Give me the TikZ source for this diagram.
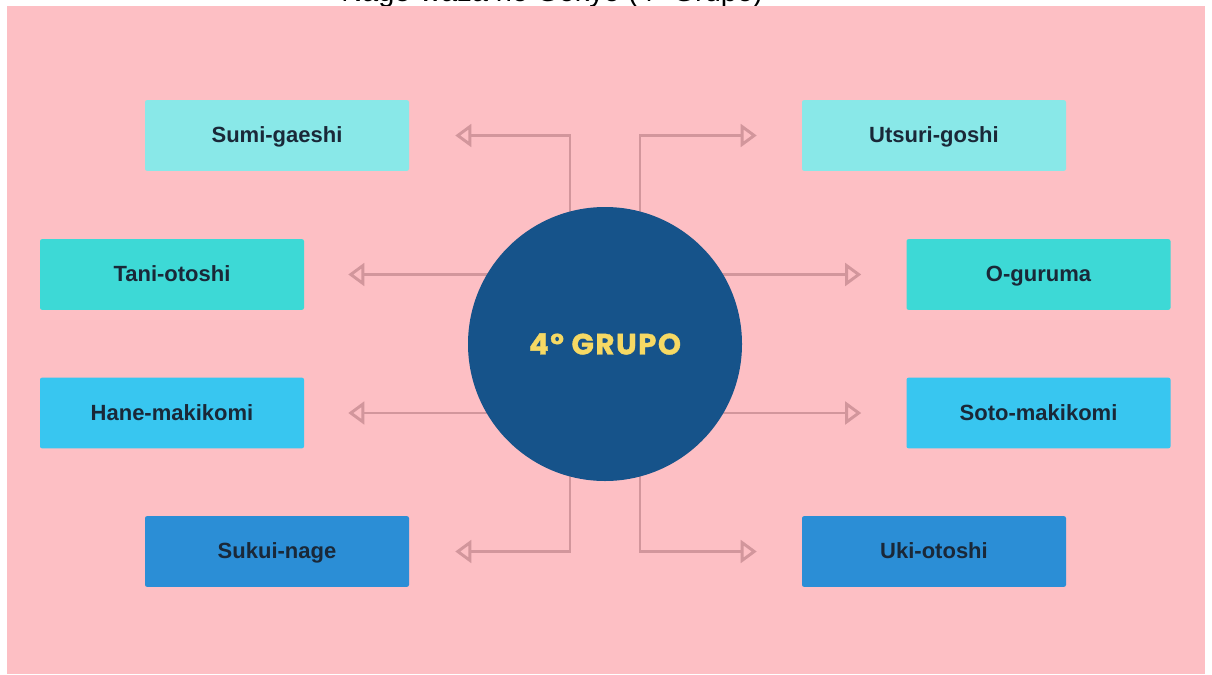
\documentclass[tikz,border=0pt]{standalone}
\usepackage{fontspec}
\setmainfont{Liberation Sans}
\newfontfamily\popfont[LetterSpace=5,BoldFeatures={FakeBold=1.2}]{Poppins}
\usetikzlibrary{arrows.meta,calc}

\definecolor{bgpink}{RGB}{253,191,196}
\definecolor{linecol}{RGB}{210,150,156}
\definecolor{circblue}{RGB}{22,83,138}
\definecolor{labyellow}{RGB}{246,217,100}
\definecolor{labdark}{RGB}{26,40,56}
\definecolor{boxA}{RGB}{137,232,232}
\definecolor{boxB}{RGB}{61,217,214}
\definecolor{boxC}{RGB}{56,198,240}
\definecolor{boxD}{RGB}{43,142,214}

\pgfdeclarelayer{back}
\pgfdeclarelayer{links}
\pgfsetlayers{back,links,main}

\tikzset{
  techbox/.style={rectangle, rounded corners=1.5pt, inner sep=0pt,
    minimum width=198pt, minimum height=53pt, text=labdark,
    text height=14pt, text depth=2.8pt,
    font=\fontsize{16.5pt}{19pt}\selectfont\bfseries},
  hub/.style={circle, fill=circblue, inner sep=0pt, minimum size=205.5pt,
    text=labyellow, font=\popfont\fontsize{22pt}{26pt}\selectfont\bfseries},
  conn/.style={draw=linecol, line width=2.2pt,
    -{Triangle[length=12pt,width=17pt,fill=bgpink]}}
}

\begin{document}
\begin{tikzpicture}[x=0.75pt,y=-0.75pt]
\useasboundingbox (0,0) rectangle (1212,674);
\clip (0,0) rectangle (1212,674);

\begin{pgfonlayer}{back}
  \fill[white] (0,0) rectangle (1212,674);
  \node[anchor=base west, inner sep=0pt, font=\fontsize{21.75pt}{26pt}\selectfont]
    (title) at (341,1.5) {Nage-waza no Gokyo (4º Grupo)};
  \fill[bgpink] (7,6) rectangle (1205,674);
\end{pgfonlayer}

% central hub
\node[hub] (c) at (605,344) {4° GRUPO};

% techniques
\node[techbox, fill=boxA] (sumi)   at (277,135.5)  {Sumi-gaeshi};
\node[techbox, fill=boxA] (utsuri) at (934,135.5)  {Utsuri-goshi};
\node[techbox, fill=boxB] (tani)   at (172,274.5)  {Tani-otoshi};
\node[techbox, fill=boxB] (ogur)   at (1038.5,274.5) {O-guruma};
\node[techbox, fill=boxC] (hane)   at (172,413)    {Hane-makikomi};
\node[techbox, fill=boxC] (soto)   at (1038.5,413) {Soto-makikomi};
\node[techbox, fill=boxD] (sukui)  at (277,551.5)  {Sukui-nage};
\node[techbox, fill=boxD] (uki)    at (934,551.5)  {Uki-otoshi};

% connectors, running behind the hub
\begin{pgfonlayer}{links}
  \draw[conn] ([xshift=-26.25pt]c.center) |- ($(sumi.east)+(46,0)$);
  \draw[conn] ([xshift=26.25pt]c.center)  |- ($(utsuri.west)+(-45,0)$);
  \draw[conn] (c.center |- tani.east) -- ($(tani.east)+(44,0)$);
  \draw[conn] (c.center |- ogur.west) -- ($(ogur.west)+(-45,0)$);
  \draw[conn] (c.center |- hane.east) -- ($(hane.east)+(44,0)$);
  \draw[conn] (c.center |- soto.west) -- ($(soto.west)+(-45,0)$);
  \draw[conn] ([xshift=-26.25pt]c.center) |- ($(sukui.east)+(46,0)$);
  \draw[conn] ([xshift=26.25pt]c.center)  |- ($(uki.west)+(-45,0)$);
\end{pgfonlayer}
\end{tikzpicture}
\end{document}
